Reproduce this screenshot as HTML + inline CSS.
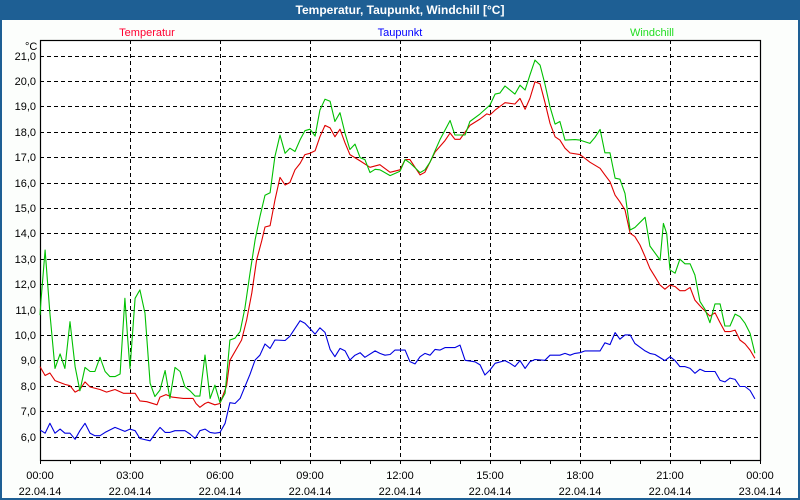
<!DOCTYPE html>
<html><head><meta charset="utf-8">
<style>
html,body{margin:0;padding:0;background:#fff;}
#wrap{position:relative;width:800px;height:500px;overflow:hidden;background:#1e5f94;font-family:"Liberation Sans","DejaVu Sans",sans-serif;}
#title{position:absolute;left:0;top:0;width:800px;height:20px;line-height:20px;text-align:center;color:#fff;font-weight:bold;font-size:12px;}
#panel{position:absolute;left:2px;top:20px;width:796px;height:478px;background:#fcfefc;}
svg text{font-family:"Liberation Sans","DejaVu Sans",sans-serif;font-size:11px;}
</style></head><body>
<div id="wrap">
<div id="title">Temperatur, Taupunkt, Windchill [°C]</div>
<div id="panel"></div>
<svg id="chart" width="800" height="500" style="position:absolute;left:0;top:0"></svg>
</div>
<script>
const yTicks=[6,7,8,9,10,11,12,13,14,15,16,17,18,19,20,21];
const xTickHours=[0,3,6,9,12,15,18,21,24];
const xTickTimes=["00:00","03:00","06:00","09:00","12:00","15:00","18:00","21:00","00:00"];
const xTickDates=["22.04.14","22.04.14","22.04.14","22.04.14","22.04.14","22.04.14","22.04.14","22.04.14","23.04.14"];
const tempT=[0,0.17,0.33,0.5,0.83,1.0,1.17,1.33,1.5,1.67,2.0,2.22,2.5,2.78,3.0,3.17,3.33,3.56,3.9,4.0,4.2,4.4,4.78,5.1,5.2,5.33,5.5,5.6,5.83,6.0,6.22,6.33,6.72,6.89,7.06,7.22,7.39,7.5,7.67,7.83,8.0,8.17,8.33,8.5,8.67,8.83,9.0,9.17,9.33,9.5,9.67,9.83,10.0,10.17,10.33,10.67,11.0,11.33,11.67,12.0,12.17,12.33,12.67,12.83,13.17,13.5,13.67,13.83,14.0,14.33,14.67,14.89,15.0,15.17,15.5,15.83,16.0,16.17,16.33,16.5,16.67,16.83,17.0,17.17,17.33,17.5,17.67,18.0,18.17,18.33,18.67,18.83,19.0,19.17,19.33,19.5,19.67,19.83,20.0,20.17,20.33,20.5,20.67,20.83,21.0,21.17,21.33,21.5,21.67,21.83,22.0,22.33,22.5,22.67,22.83,23.0,23.17,23.33,23.5,23.67,23.83];
const tempV=[8.75,8.4,8.5,8.2,8.05,8.0,7.75,7.85,8.15,7.95,7.85,7.75,7.85,7.7,7.7,7.7,7.4,7.37,7.25,7.55,7.65,7.55,7.5,7.5,7.3,7.15,7.3,7.35,7.25,7.3,8.0,9.0,9.8,10.6,11.65,12.95,13.7,14.25,14.3,15.3,16.2,15.9,16.0,16.5,16.75,17.1,17.15,17.25,17.8,18.25,18.15,17.8,18.1,17.55,17.1,16.85,16.6,16.7,16.4,16.5,16.9,16.9,16.3,16.4,17.2,17.65,17.95,17.7,17.7,18.25,18.5,18.7,18.66,18.85,19.14,19.09,19.31,18.88,19.31,19.97,19.88,19.16,18.33,17.8,17.67,17.35,17.16,17.1,16.95,16.8,16.56,16.3,16.03,15.5,15.24,14.92,14.0,13.87,13.54,13.08,12.62,12.29,11.96,11.8,11.96,11.9,11.74,11.74,11.87,11.37,11.14,10.74,10.87,10.48,10.13,10.13,10.19,9.8,9.65,9.4,9.08];
const chillT=[0,0.03,0.17,0.33,0.5,0.67,0.83,1.0,1.17,1.33,1.5,1.67,1.83,2.0,2.17,2.33,2.5,2.67,2.83,2.92,3.0,3.17,3.33,3.5,3.67,3.83,4.0,4.17,4.33,4.5,4.67,4.83,5.0,5.17,5.33,5.5,5.67,5.83,6.0,6.17,6.33,6.5,6.67,6.83,7.0,7.17,7.33,7.5,7.67,7.83,8.0,8.17,8.33,8.5,8.67,8.83,9.0,9.17,9.33,9.5,9.67,9.83,10.0,10.17,10.33,10.5,10.67,10.83,11.0,11.17,11.33,11.67,12.0,12.17,12.33,12.67,12.83,13.0,13.33,13.67,13.83,14.17,14.33,14.67,15.0,15.17,15.33,15.5,15.83,16.0,16.17,16.33,16.5,16.67,16.83,17.0,17.17,17.33,17.5,17.83,18.0,18.33,18.5,18.67,18.83,19.0,19.17,19.33,19.5,19.67,19.83,20.17,20.33,20.67,20.78,20.89,21.0,21.17,21.33,21.5,21.67,21.83,22.0,22.17,22.33,22.5,22.67,22.83,23.0,23.17,23.33,23.5,23.67,23.83];
const chillV=[10.78,11.3,13.34,10.85,8.68,9.25,8.68,10.52,8.75,7.8,8.72,8.56,8.56,9.12,8.56,8.36,8.36,8.46,11.44,9.9,8.68,11.44,11.77,10.85,8.1,7.57,7.83,8.6,7.5,8.72,8.56,7.96,7.8,7.59,7.59,9.21,7.5,8.02,7.33,7.7,9.8,9.87,10.13,11.05,12.43,13.74,14.65,15.5,15.6,17.02,17.87,17.15,17.35,17.22,17.68,18.04,18.1,17.83,18.85,19.28,19.2,18.4,18.75,17.93,17.3,17.51,16.98,16.9,16.39,16.52,16.5,16.27,16.44,16.9,16.77,16.39,16.5,16.8,17.68,18.44,17.87,17.87,18.4,18.7,19.05,19.48,19.52,19.8,19.48,19.83,19.64,20.23,20.82,20.62,19.88,18.98,18.3,18.4,17.67,17.69,17.67,17.54,17.78,18.09,17.17,17.17,16.17,16.13,15.57,14.13,14.23,14.63,13.5,12.95,14.39,13.99,12.56,12.43,12.98,12.8,12.8,12.36,11.31,11.0,10.48,11.22,11.22,10.35,10.35,10.82,10.72,10.46,10.06,9.28];
const dewT=[0,0.17,0.33,0.5,0.67,0.83,1.0,1.17,1.33,1.5,1.67,1.83,2.0,2.17,2.5,2.83,3.0,3.17,3.33,3.67,3.83,4.0,4.17,4.33,4.5,4.83,5.0,5.17,5.33,5.5,5.67,5.83,6.0,6.17,6.33,6.5,6.67,6.83,7.0,7.17,7.33,7.5,7.67,7.83,8.17,8.33,8.67,8.83,9.0,9.17,9.33,9.5,9.67,9.83,10.0,10.17,10.33,10.5,10.67,10.83,11.17,11.33,11.5,11.67,11.83,12.17,12.33,12.5,12.67,12.83,13.0,13.17,13.33,13.5,13.83,14.0,14.17,14.5,14.67,14.83,15.0,15.17,15.5,15.67,15.83,16.0,16.17,16.33,16.5,16.83,17.0,17.33,17.5,17.67,17.83,18.0,18.17,18.67,18.83,19.0,19.17,19.33,19.5,19.67,19.83,20.17,20.33,20.5,20.83,21.0,21.17,21.33,21.5,21.67,21.83,22.0,22.17,22.33,22.5,22.67,22.83,23.0,23.17,23.33,23.5,23.67,23.83];
const dewV=[6.26,6.13,6.52,6.13,6.29,6.13,6.13,5.89,6.23,6.52,6.13,6.03,6.03,6.16,6.36,6.2,6.29,6.23,5.92,5.83,6.1,6.36,6.16,6.16,6.23,6.23,6.1,5.92,6.23,6.29,6.16,6.13,6.16,6.52,7.33,7.3,7.5,7.96,8.45,9.01,9.2,9.64,9.47,9.8,9.78,9.95,10.56,10.46,10.25,10.03,10.28,10.1,9.43,9.14,9.47,9.37,9.01,9.2,9.3,9.12,9.37,9.27,9.2,9.23,9.4,9.4,8.95,8.86,9.14,9.27,9.2,9.43,9.4,9.5,9.5,9.6,9.0,8.94,8.82,8.42,8.62,8.88,8.99,8.88,8.75,8.99,8.68,8.94,9.03,9.0,9.2,9.2,9.27,9.2,9.27,9.3,9.37,9.37,9.69,9.62,10.09,9.83,10.0,10.0,9.66,9.37,9.27,9.23,8.99,9.14,8.99,8.75,8.75,8.68,8.49,8.65,8.56,8.56,8.56,8.21,8.15,8.3,8.25,7.97,7.97,7.81,7.48];

const NS='http://www.w3.org/2000/svg';
const svg=document.getElementById('chart');
const L=40,R=760,T=40,B=460;
function xs(h){return L+h*(R-L)/24;}
function ys(v){return 436.5-(v-6)*25.4;}
function mk(tag,attrs){const e=document.createElementNS(NS,tag);for(const k in attrs)e.setAttribute(k,attrs[k]);svg.appendChild(e);return e;}

mk('rect',{x:L,y:T,width:R-L,height:B-T,fill:'#fff'});
yTicks.forEach(v=>{
  const g=mk('line',{x1:L,x2:R,y1:Math.round(ys(v))+0.5,y2:Math.round(ys(v))+0.5,stroke:'#000','stroke-dasharray':'4,3','stroke-width':1});
  
  
  const t=mk('text',{x:36,y:Math.round(ys(v))+4,'text-anchor':'end',fill:'#000'});
  t.textContent=v.toFixed(1).replace('.',',');
  
  
});
for(let h=0;h<=24;h++){
  const tk=mk('line',{x1:Math.round(xs(h))+0.5,x2:Math.round(xs(h))+0.5,y1:B,y2:B+4,stroke:'#000'});
  
  
}
xTickHours.forEach((h,i)=>{
  if(h>0&&h<24){
    const g=mk('line',{x1:Math.round(xs(h))+0.5,x2:Math.round(xs(h))+0.5,y1:T,y2:B,stroke:'#000','stroke-dasharray':'4,3'});
    
    
  }
  const t1=mk('text',{x:xs(h),y:479,'text-anchor':'middle',fill:'#000'});
  t1.textContent=xTickTimes[i];
  
  
  const t2=mk('text',{x:xs(h),y:495,'text-anchor':'middle',fill:'#000'});
  t2.textContent=xTickDates[i];
  
  
});
const fr=mk('rect',{x:L+0.5,y:T+0.5,width:R-L,height:B-T,fill:'none',stroke:'#000','stroke-width':1.2});


const u=mk('text',{x:25,y:50,fill:'#000'});u.textContent='°C';



function series(ts,vs,color,name){
  const pts=ts.map((t,i)=>xs(t).toFixed(1)+','+ys(vs[i]).toFixed(1)).join(' ');
  const p=mk('polyline',{points:pts,fill:'none',stroke:color,'stroke-width':1.1,'stroke-linejoin':'round'});
  
  
}
series(dewT,dewV,'#0000e0','dewpoint-line');
series(tempT,tempV,'#e00000','temperature-line');
series(chillT,chillV,'#00c000','windchill-line');

[['Temperatur','#ff0030',147,'legend-temperature'],['Taupunkt','#0000ff',400,'legend-dewpoint'],['Windchill','#22dd22',652,'legend-windchill']].forEach(d=>{
  const t=mk('text',{x:d[2],y:36,'text-anchor':'middle',fill:d[1]});
  t.textContent=d[0];
  
  
});
</script>
</body></html>
